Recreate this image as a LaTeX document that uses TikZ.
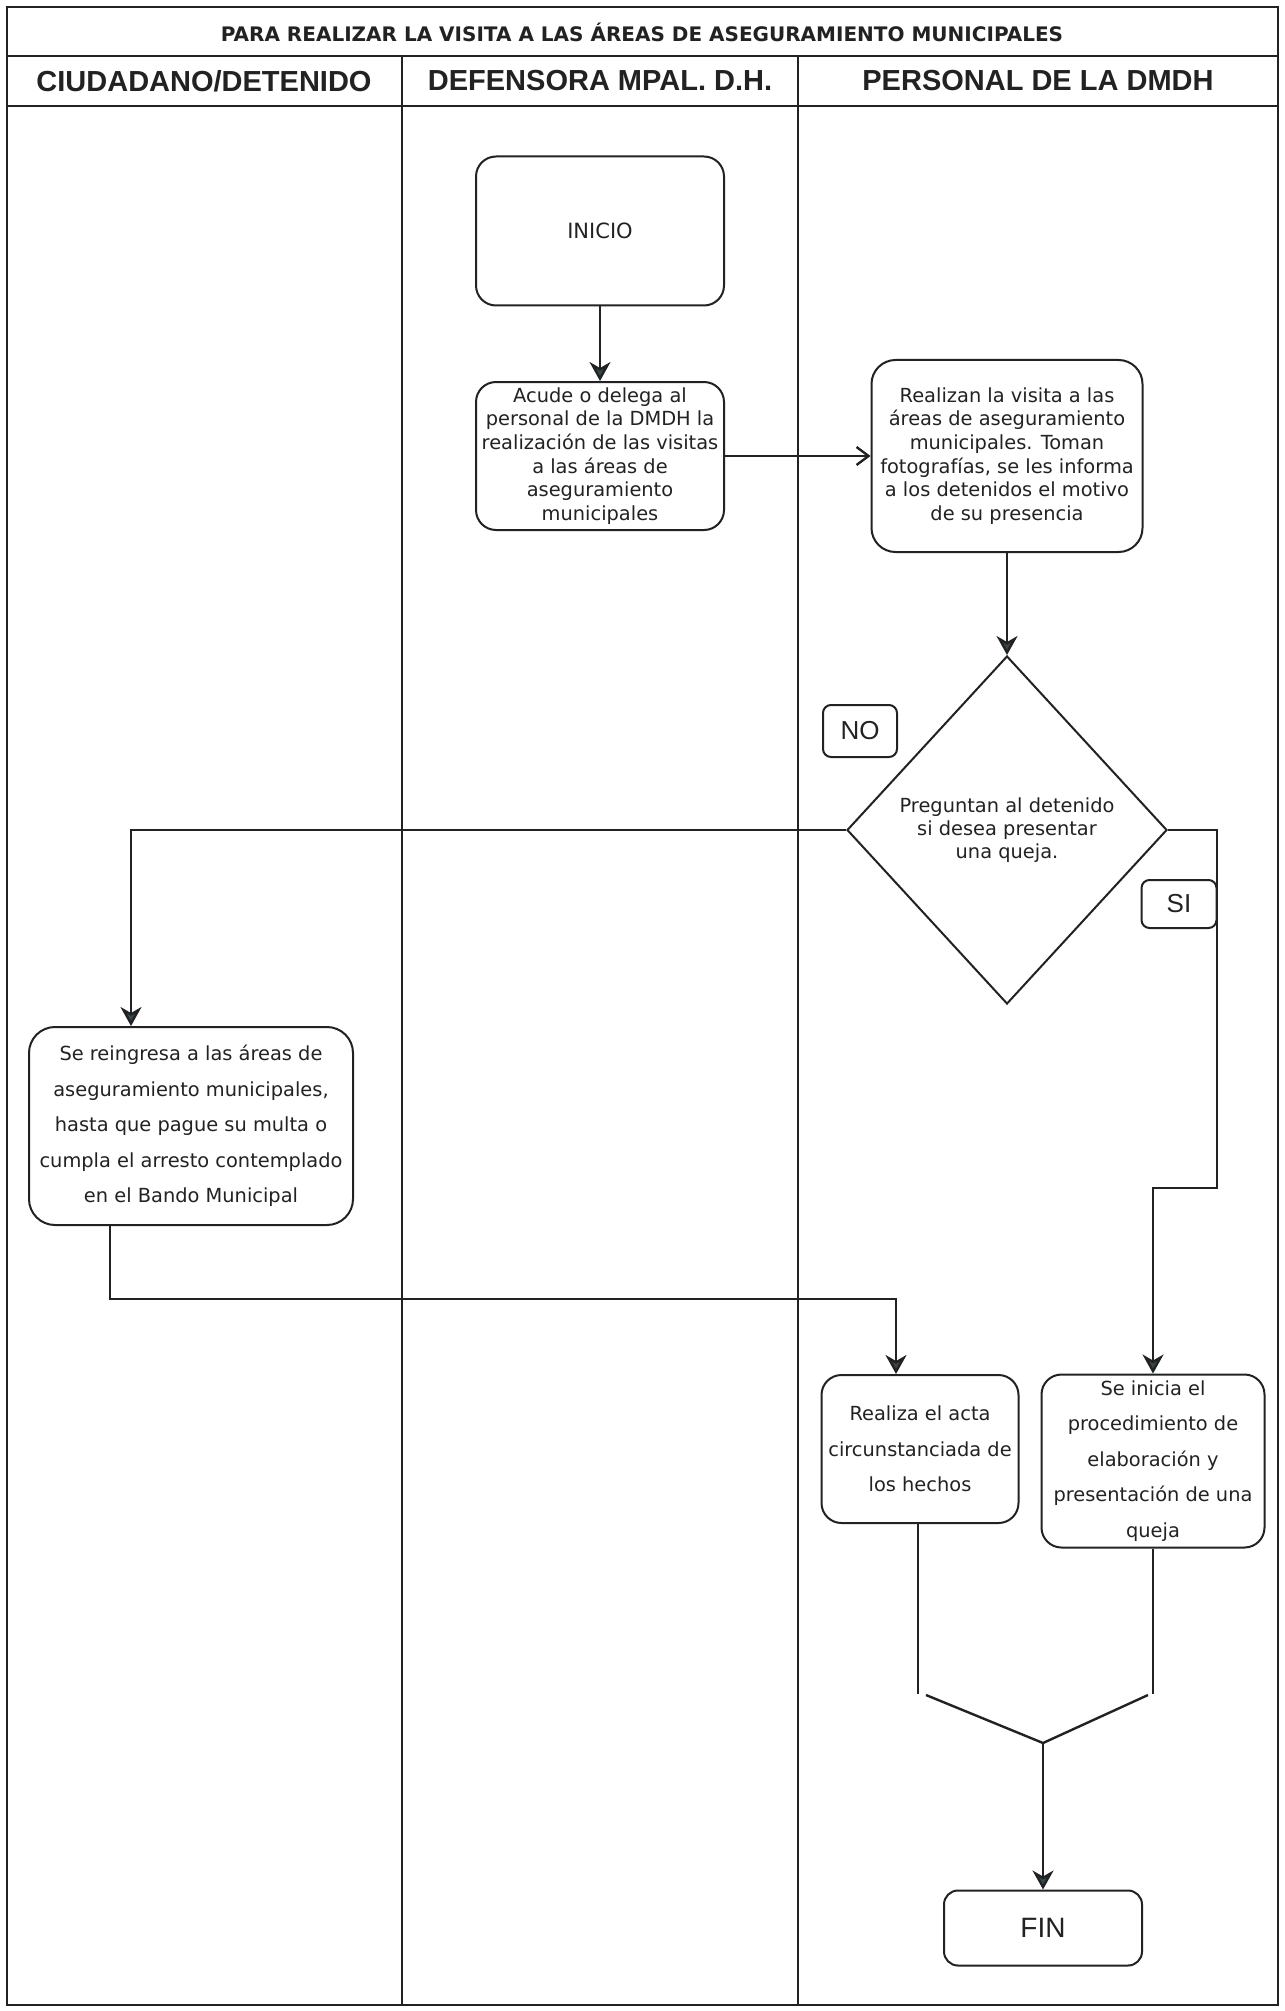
\documentclass[tikz,border=0pt]{standalone}
\usepackage{fontspec}
\setmainfont{DejaVu Sans}
\newfontfamily\headfont{Liberation Sans}
\usetikzlibrary{shapes.geometric,arrows.meta}
\definecolor{tipgray}{HTML}{37474F}
\definecolor{inkgray}{HTML}{222222}

\begin{document}
\begin{tikzpicture}[x=0.5pt,y=-0.5pt]
    \tikzstyle{lane}=[line width=1.2pt,draw=inkgray]
    \tikzstyle{lanehead}=[font=\headfont\bfseries\fontsize{14.5}{14.5}\selectfont,text=inkgray]
    \tikzstyle{proc}=[draw=inkgray,line width=1pt,rounded corners=10pt,align=center,inner sep=1pt,text=inkgray,font=\fontsize{9.7}{11.85}\selectfont]
    \tikzstyle{wide}=[proc,font=\fontsize{9.7}{17.75}\selectfont]
    \tikzstyle{ask}=[diamond,draw=inkgray,line width=1pt,align=center,inner sep=0pt,text=inkgray,font=\fontsize{9.7}{11.5}\selectfont]
    \tikzstyle{tag}=[draw=inkgray,line width=1pt,rounded corners=4pt,inner sep=0pt,text=inkgray,font=\headfont\fontsize{13}{13}\selectfont]
    \tikzstyle{flow}=[line width=1.2pt,draw=inkgray]
    \tikzstyle{arr}=[flow,-{Stealth[length=9.5pt,width=10.5pt,inset=3pt,fill=tipgray]}]

    \useasboundingbox (0,0) rectangle (1284,2011);
    \fill[white] (0,0) rectangle (1284,2011);
    \draw[lane] (7,7) rectangle (1278,2005);
    \draw[lane] (7,56) -- (1278,56);
    \draw[lane] (7,106) -- (1278,106);
    \draw[lane] (402,56) -- (402,2005);
    \draw[lane] (798,56) -- (798,2005);

    \node[font=\bfseries\fontsize{10}{10}\selectfont,text=inkgray] (titulo) at (642,32) {PARA REALIZAR LA VISITA A LAS ÁREAS DE ASEGURAMIENTO MUNICIPALES};
    \node[lanehead] (ciudadano) at (204,81) {CIUDADANO/DETENIDO};
    \node[lanehead] (defensora) at (600,81) {DEFENSORA MPAL. D.H.};
    \node[lanehead] (personal) at (1038,81) {PERSONAL DE LA DMDH};

    \node[proc,minimum width=124pt,minimum height=74.5pt,font=\fontsize{10.5}{12}\selectfont] (inicio) at (600,231) {INICIO};
    \node[proc,minimum width=124pt,minimum height=74pt] (acude) at (600,456) {Acude o delega al\\personal de la DMDH la\\realización de las visitas\\a las áreas de\\aseguramiento\\municipales};
    \node[proc,minimum width=135.5pt,minimum height=96pt,rounded corners=12pt] (realizan) at (1007,456) {Realizan la visita a las\\áreas de aseguramiento\\municipales. Toman\\fotografías, se les informa\\a los detenidos el motivo\\de su presencia};
    \node[ask,minimum width=160pt,minimum height=174pt] (pregunta) at (1007,830) {Preguntan al detenido\\si desea presentar\\una queja.};
    \node[tag,minimum width=37pt,minimum height=26pt] (no) at (860,731) {NO};
    \node[tag,minimum width=37.5pt,minimum height=24pt] (si) at (1179,904) {SI};
    \node[wide,minimum width=162pt,minimum height=99pt,rounded corners=13pt] (reingresa) at (191,1126) {Se reingresa a las áreas de\\aseguramiento municipales,\\hasta que pague su multa o\\cumpla el arresto contemplado\\en el Bando Municipal};
    \node[wide,minimum width=98.5pt,minimum height=74pt] (acta) at (920,1449) {Realiza el acta\\circunstanciada de\\los hechos};
    \node[wide,minimum width=111.5pt,minimum height=86.5pt] (queja) at (1153,1461) {Se inicia el\\procedimiento de\\elaboración y\\presentación de una\\queja};
    \node[proc,minimum width=99pt,minimum height=37.5pt,rounded corners=7pt,font=\headfont\fontsize{14}{14}\selectfont] (fin) at (1043,1928) {FIN};

    \coordinate (nobend) at (131,830);
    \coordinate (sibend) at (1217,1188);
    \coordinate (regreso) at (110,1299);
    \coordinate (actain) at (896,1299);
    \coordinate (actaout) at (918,1694);
    \coordinate (quejaout) at (1153,1694);
    \coordinate (vizq) at (926,1695);
    \coordinate (vder) at (1148,1695);
    \coordinate (junta) at (1043,1743);

    \draw[arr] (inicio) -- (acude);
    \draw[flow,-{Straight Barb[length=6pt,width=9pt]}] (acude.east) -- (acude.east -| realizan.west);
    \draw[arr] (realizan) -- (pregunta);
    \draw[arr] (pregunta.west) -- (nobend) -- (nobend |- reingresa.north);
    \draw[arr] (pregunta.east) -- (pregunta.east -| sibend) -- (sibend) -- (sibend -| queja.north) -- (queja.north);
    \draw[arr] (reingresa.south -| regreso) -- (regreso) -- (actain) -- (actain |- acta.north);
    \draw[flow] (acta.south -| actaout) -- (actaout);
    \draw[flow] (queja.south -| quejaout) -- (quejaout);
    \draw[flow] (vizq) -- (junta) -- (vder);
    \draw[arr] (junta) -- (junta |- fin.north);
\end{tikzpicture}
\end{document}
